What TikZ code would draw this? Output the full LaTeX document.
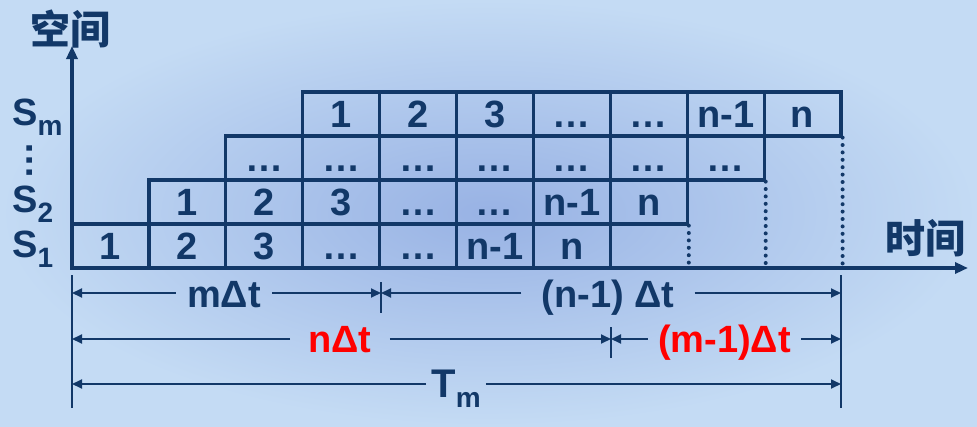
\documentclass[tikz,border=0pt]{standalone}
\usepackage{fontspec}
\setmainfont{Liberation Sans}
\newfontfamily\cjk{Noto Sans CJK SC}
\usetikzlibrary{arrows.meta}
\definecolor{navy}{RGB}{18,56,104}
\definecolor{bgA}{RGB}{196,219,244}
\definecolor{bgB}{RGB}{152,178,228}
\definecolor{redlab}{RGB}{255,0,0}
\newcommand\bigf{\fontsize{38}{40}\selectfont\bfseries}
\newcommand\subf{\fontsize{28}{28}\selectfont\bfseries}
\newcommand\lowsub[1]{\raisebox{-10.5pt}{\subf #1}}
\tikzset{
  cell/.style={draw=navy, line width=3.2pt, minimum width=76.9pt, minimum height=44pt,
    inner sep=0pt, text height=27pt, text depth=0pt, text=navy, font=\bigf},
  axisline/.style={draw=navy, line width=3.2pt, -{Triangle[length=13pt,width=11pt]}},
  dotline/.style={draw=navy, line width=4pt, line cap=round, dash pattern=on 0pt off 7.4pt},
  tickline/.style={draw=navy, line width=1.8pt},
  dimarr/.style={draw=navy, line width=1.8pt, -{Triangle[length=10pt,width=9pt]}},
  dimlab/.style={inner ysep=0pt, anchor=base, font=\bigf, text=navy},
  sidelab/.style={inner sep=0pt, anchor=base west, font=\bigf, text=navy},
  cjklab/.style={inner sep=0pt, font=\fontsize{40}{40}\selectfont\cjk\bfseries, text=navy}
}
\begin{document}
\begin{tikzpicture}[x=1pt,y=-1pt]
\useasboundingbox (0,0) rectangle (977,426);
\shade[inner color=bgB, outer color=bgA] (0,0) rectangle (977,426);

% cells
\foreach \t [count=\k from 0] in {1,2,3,…,…,n-1,n}
  \node[cell] (ra\k) at ({72+76.9*(\k+0.5)},246) {\t};
\foreach \t [count=\k from 1] in {1,2,3,…,…,n-1,n}
  \node[cell] (rb\k) at ({72+76.9*(\k+0.5)},202) {\t};
\foreach \t [count=\k from 2] in {…,…,…,…,…,…,…}
  \node[cell] (rc\k) at ({72+76.9*(\k+0.5)},158) {\t};
\foreach \t [count=\k from 3] in {1,2,3,…,…,n-1,n}
  \node[cell] (rd\k) at ({72+76.9*(\k+0.5)},114) {\t};

% axes
\coordinate (O) at (72,268);
\coordinate (Ytip) at (72,46);
\coordinate (Xtip) at (968,268);
\draw[dotline] (rb7.south east) -- (rb7.south east |- O);
\draw[dotline] (rc8.south east) -- (rc8.south east |- O);
\draw[dotline] (rd9.south east) -- (rd9.south east |- O);
\draw[axisline] (O) -- (Ytip);
\draw[axisline] (O) -- (Xtip);
\node[cjklab] (kj) at (70,29) {空间};
\node[cjklab] (sj) at (925.5,238.5) {时间};

% side labels
\node[sidelab] (sm) at (12,125) {S\lowsub{m}};
\node[inner sep=0pt, rotate=90, font=\bigf, text=navy] (vd) at (29.5,160) {…};
\node[sidelab] (s2) at (12,212) {S\lowsub{2}};
\node[sidelab] (s1) at (12,257) {S\lowsub{1}};

% extension ticks
\coordinate (vL0) at (72,275);  \coordinate (vL1) at (72,408);
\coordinate (vR0) at (841,275); \coordinate (vR1) at (841,408);
\coordinate (vA0) at (381,282); \coordinate (vA1) at (381,313);
\coordinate (vB0) at (611,327); \coordinate (vB1) at (611,358);
\draw[tickline] (vL0) -- (vL1);
\draw[tickline] (vR0) -- (vR1);
\draw[tickline] (vA0) -- (vA1);
\draw[tickline] (vB0) -- (vB1);

% row 1
\coordinate (a1) at (72,293); \coordinate (a2) at (381,293); \coordinate (a3) at (841,293);
\node[dimlab, inner xsep=11pt] (mdt) at (224,307) {mΔt};
\draw[dimarr] (mdt.west |- a1) -- (a1);
\draw[dimarr] (mdt.east |- a1) -- (a2);
\node[dimlab, inner xsep=20pt] (nmdt) at (608,307) {(n-1) Δt};
\draw[dimarr] (nmdt.west |- a1) -- (a2);
\draw[dimarr] (nmdt.east |- a1) -- (a3);

% row 2
\coordinate (b1) at (72,339); \coordinate (b2) at (611,339); \coordinate (b3) at (841,339);
\node[dimlab, inner xsep=18pt, text=redlab] (ndt) at (340,352) {nΔt};
\draw[dimarr] (ndt.west |- b1) -- (b1);
\draw[dimarr] (ndt.east |- b1) -- (b2);
\node[dimlab, inner xsep=10pt, text=redlab] (mmdt) at (724.5,352) {(m-1)Δt};
\draw[dimarr] (mmdt.west |- b1) -- (b2);
\draw[dimarr] (mmdt.east |- b1) -- (b3);

% row 3
\coordinate (c1) at (72,384); \coordinate (c3) at (841,384);
\node[dimlab, inner xsep=5pt] (tm) at (456,397) {\fontsize{40}{40}\selectfont T\lowsub{m}};
\draw[dimarr] (tm.west |- c1) -- (c1);
\draw[dimarr] (tm.east |- c1) -- (c3);
\end{tikzpicture}
\end{document}
